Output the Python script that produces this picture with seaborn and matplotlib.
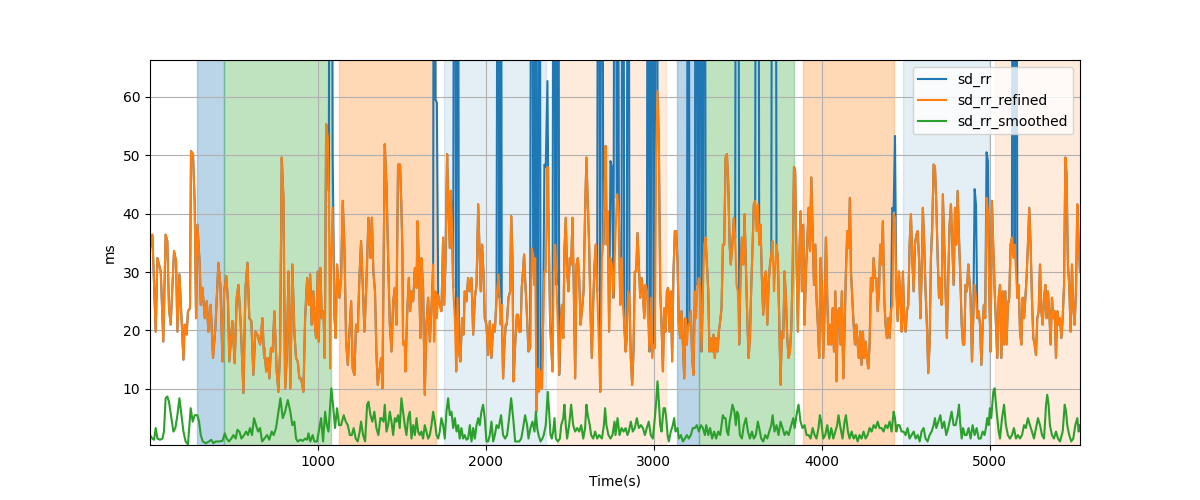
import matplotlib
matplotlib.use("Agg")
import matplotlib.pyplot as plt
import seaborn as sns

# ---------------- data ----------------
time_refined = [
    2, 16, 36, 46, 66, 81, 95, 105, 115, 125, 145, 157, 165, 177, 201, 208, 220, 228, 240, 246,
    258, 268, 276, 284, 298, 304, 314, 328, 340, 349, 363, 377, 391, 409, 421, 433, 443, 456, 466, 474,
    492, 506, 518, 528, 542, 558, 570, 582, 593, 605, 617, 629, 641, 657, 671, 681,
    683, 693, 703, 712, 722, 732, 742, 756, 766, 776, 786, 796, 806, 816, 826, 837, 849, 861, 871, 881,
    891, 901, 915, 925, 937, 947, 955, 964, 974, 980, 990, 1000, 1006, 1016, 1024, 1034, 1042, 1050, 1060, 1066,
    1074, 1080, 1089, 1099, 1107, 1115, 1123, 1129, 1139, 1149, 1159, 1169, 1179, 1189, 1199, 1208, 1218, 1228, 1238, 1248,
    1258, 1268, 1278, 1288, 1302, 1314, 1322, 1331, 1341, 1349, 1357, 1367, 1377,
    1379, 1385, 1389, 1399, 1409, 1419, 1429, 1439, 1449, 1459, 1468, 1478, 1490, 1498, 1504, 1508, 1518, 1522, 1532, 1542,
    1550, 1558, 1568, 1578, 1588, 1594, 1601, 1611, 1617, 1627, 1637, 1647, 1657, 1667, 1677, 1687, 1693, 1701, 1709, 1717,
    1726, 1736, 1746, 1752, 1760, 1770, 1776, 1786, 1792, 1800, 1806, 1816, 1824, 1832, 1840, 1849, 1859, 1867, 1875, 1885,
    1895, 1905, 1915, 1925, 1935, 1945, 1955, 1963, 1970, 1978, 1986, 1994, 2004, 2014, 2024, 2034, 2044, 2054, 2064,
    2076, 2082, 2088, 2095, 2103, 2111, 2119, 2125, 2135, 2145, 2151, 2159, 2165, 2175, 2185, 2191, 2199, 2207, 2214, 2220,
    2228, 2234, 2244, 2254, 2264, 2274, 2282, 2288, 2294, 2302, 2310, 2318, 2326, 2334, 2341, 2349, 2357, 2367, 2373, 2383,
    2389, 2397, 2405, 2413, 2421, 2429, 2437, 2445, 2453, 2461, 2468, 2476, 2484, 2492, 2500, 2508, 2516, 2524, 2532, 2540,
    2548, 2556, 2564, 2572, 2582, 2591, 2599, 2607, 2615, 2623, 2631, 2639, 2647, 2655, 2663, 2671, 2681, 2691, 2699, 2707,
    2713, 2720, 2726, 2734, 2742, 2750, 2760, 2770, 2780,
    2782, 2792, 2800, 2808, 2816, 2824, 2832, 2839, 2847, 2855, 2863, 2871, 2879, 2887, 2895, 2903, 2911, 2919, 2927, 2935,
    2943, 2951, 2959, 2966, 2974, 2982, 2990, 2998, 3006, 3014, 3022, 3030, 3038, 3046, 3054, 3062, 3070, 3078, 3085, 3093,
    3101, 3109, 3117, 3125, 3133, 3141, 3149, 3157, 3165, 3173, 3181, 3189, 3197, 3205, 3212, 3220, 3228, 3236, 3244, 3252,
    3260, 3268, 3276, 3284, 3292, 3300, 3308, 3316, 3324, 3331, 3339, 3347, 3355, 3363, 3371, 3379, 3387, 3395, 3403, 3411,
    3419, 3427, 3435, 3443, 3451, 3458, 3466,
    3476, 3484, 3492, 3500, 3508, 3516, 3524, 3532, 3540, 3548, 3556, 3564, 3572, 3580, 3588, 3595, 3603, 3611, 3619, 3627,
    3635, 3643, 3651, 3659, 3667, 3675, 3683, 3691, 3699, 3707, 3715, 3722, 3730, 3738, 3746, 3754, 3762, 3770, 3778, 3786,
    3794, 3802, 3810, 3818, 3826, 3834, 3841, 3849, 3857, 3865, 3873, 3881, 3889, 3897, 3905, 3913, 3921, 3929, 3937, 3945,
    3953, 3961, 3968, 3976, 3984, 3992, 4000, 4008, 4016, 4024, 4032, 4040, 4048, 4056, 4064, 4072, 4080, 4087, 4095, 4103,
    4111, 4119, 4127, 4135, 4143, 4151, 4159, 4167,
    4173, 4181, 4189, 4197, 4205, 4213, 4220, 4228, 4236, 4244, 4252, 4260, 4268, 4276, 4284, 4292, 4300, 4308, 4316, 4324,
    4332, 4340, 4347, 4355, 4363, 4371, 4379, 4387, 4395, 4403, 4411, 4419, 4427, 4435, 4443, 4451, 4459, 4467, 4474, 4482,
    4490, 4498, 4506, 4514, 4522, 4530, 4538, 4546, 4554, 4562, 4570, 4578, 4586, 4593, 4601, 4609, 4617, 4625, 4633, 4641,
    4649, 4657, 4665, 4673, 4681, 4689, 4697, 4705, 4713, 4720, 4728, 4736, 4744, 4752, 4760, 4768, 4776, 4784, 4792, 4800,
    4808, 4816, 4824, 4832, 4840, 4847, 4855, 4863, 4871,
    4877, 4885, 4893, 4901, 4909, 4917, 4925, 4933, 4941, 4949, 4957, 4964, 4972, 4980, 4988, 4996, 5004, 5012, 5020, 5028,
    5036, 5044, 5052, 5060, 5068, 5076, 5084, 5092, 5099, 5107, 5115, 5123, 5131, 5139, 5147, 5155, 5163, 5171, 5179, 5187,
    5195, 5203, 5211, 5218, 5226, 5234, 5242, 5250, 5258, 5266, 5274, 5282, 5290, 5298, 5306, 5314, 5322, 5330, 5337, 5345,
    5353, 5361, 5369, 5377, 5385, 5393, 5401, 5409, 5417, 5425, 5433, 5441, 5449, 5456, 5464, 5472, 5480, 5488, 5496, 5504,
    5512, 5520, 5528, 5536,
]

sd_rr_refined = [
    34.1, 36.4, 19.8, 32.4, 30.1, 18.1, 36.4, 35.3, 23.8, 21.0, 33.6, 31.9, 19.8, 29.6, 15.0, 21.0, 19.3, 23.3, 23.8, 50.7,
    50.2, 41.6, 22.1, 38.1, 31.3, 24.4, 27.3, 22.1, 25.0, 19.8, 24.4, 15.3, 20.4, 31.6, 27.8, 14.7, 26.7, 29.3, 25.0, 14.7,
    21.6, 14.4, 25.6, 27.8, 21.0, 9.3, 27.3, 31.6, 22.1, 21.6, 12.4, 19.8, 19.3, 17.6, 22.1, 15.3,
    17.0, 13.0, 15.3, 11.8, 17.0, 16.4, 23.3, 13.0, 9.5, 16.4, 49.6, 42.7, 10.1, 15.3, 30.1, 10.1, 31.3, 19.8, 15.3, 14.7,
    11.8, 11.8, 9.5, 22.1, 29.0, 24.4, 29.6, 21.0, 26.7, 22.1, 18.7, 30.1, 18.1, 30.7, 22.1, 23.3, 15.3, 55.3, 53.0, 43.9,
    13.5, 33.0, 41.0, 22.7, 18.7, 31.3, 27.8, 25.6, 29.0, 42.2, 34.1, 18.1, 14.1, 19.8, 25.0, 13.5, 12.4, 21.0, 19.8, 29.0,
    35.3, 27.8, 19.8, 26.7, 39.3, 32.4, 39.3, 30.1, 26.7, 16.4, 10.7, 13.0, 15.3,
    15.3, 10.1, 21.6, 51.9, 45.0, 32.4, 21.0, 16.4, 25.0, 27.3, 21.0, 48.4, 48.4, 41.0, 33.6, 17.6, 18.1, 13.0, 22.7, 29.0,
    23.3, 26.7, 25.0, 30.7, 27.3, 38.7, 32.4, 18.7, 32.4, 27.3, 9.0, 21.0, 25.6, 18.1, 23.8, 31.3, 18.1, 26.7, 22.1, 26.1,
    24.4, 23.3, 35.9, 24.4, 31.3, 50.2, 42.7, 34.1, 43.9, 37.0, 27.3, 22.1, 13.0, 25.6, 16.4, 14.7, 22.1, 19.3, 26.7, 25.0,
    29.0, 26.7, 29.0, 19.3, 25.6, 27.8, 41.6, 33.6, 26.7, 34.7, 30.1, 22.1, 21.0, 15.8, 21.6, 15.3, 21.0, 19.8, 25.6,
    29.6, 25.6, 21.0, 24.4, 11.8, 17.6, 21.0, 21.0, 25.6, 26.7, 39.6, 32.4, 11.3, 17.6, 22.7, 22.7, 19.8, 19.8, 27.3, 29.6,
    33.0, 29.0, 23.3, 16.4, 17.0, 34.1, 33.0, 27.8, 32.4, 6.1, 13.5, 9.5, 13.0, 10.1, 21.0, 30.1, 30.1, 48.0, 40.4, 21.0,
    17.6, 13.0, 30.1, 34.7, 27.8, 19.8, 12.4, 21.0, 24.4, 18.7, 33.6, 39.3, 30.1, 26.7, 32.4, 31.3, 39.3, 26.7, 11.8, 31.3,
    32.4, 29.0, 21.0, 23.3, 26.7, 40.4, 49.6, 41.6, 34.7, 23.3, 15.3, 24.4, 31.3, 34.7, 26.7, 19.8, 9.5, 32.4, 34.7, 43.9,
    51.6, 34.7, 40.4, 19.8, 32.4, 31.3, 25.6, 34.7, 42.7,
    43.3, 39.9, 24.4, 32.4, 24.4, 21.0, 16.4, 18.7, 26.7, 25.6, 15.3, 10.7, 16.4, 30.1, 30.1, 36.7, 31.3, 25.6, 29.0, 26.7,
    22.1, 27.8, 26.7, 21.6, 16.4, 25.6, 15.3, 17.6, 17.0, 49.6, 61.0, 51.9, 26.7, 21.0, 13.0, 23.8, 19.8, 26.7, 27.3, 19.8,
    26.7, 14.7, 30.1, 37.0, 37.0, 31.9, 21.0, 18.7, 23.3, 17.6, 11.8, 22.1, 17.6, 21.0, 21.0, 23.3, 15.3, 12.4, 26.7, 22.1,
    27.8, 29.0, 26.7, 16.4, 26.7, 34.7, 35.9, 31.3, 26.7, 16.4, 18.7, 16.4, 19.3, 15.3, 18.7, 16.4, 19.8, 21.6, 23.8, 34.7,
    34.7, 49.6, 50.2, 45.0, 34.7, 31.3, 34.1,
    39.3, 35.9, 27.8, 26.7, 17.6, 30.1, 35.9, 31.3, 39.9, 30.7, 22.1, 15.3, 18.7, 27.8, 34.7, 41.6, 42.2, 37.0, 41.6, 34.7,
    38.1, 29.0, 22.7, 29.0, 30.1, 21.0, 27.8, 31.3, 33.0, 35.3, 26.7, 30.1, 34.7, 32.4, 22.1, 10.7, 19.8, 18.7, 30.1, 25.6,
    18.7, 15.3, 16.4, 20.4, 30.1, 48.0, 47.4, 32.4, 19.8, 32.4, 40.4, 26.7, 38.1, 21.0, 30.1, 34.7, 41.0, 33.6, 46.2, 37.0,
    27.8, 34.7, 25.6, 21.0, 15.3, 32.4, 27.8, 15.3, 23.3, 35.9, 25.6, 17.6, 21.0, 17.6, 23.8, 16.4, 26.7, 11.3, 23.3, 23.8,
    17.6, 26.7, 11.8, 19.8, 30.1, 37.0, 34.1, 42.7,
    30.1, 25.6, 21.0, 17.6, 21.0, 17.6, 15.3, 19.8, 14.1, 19.8, 15.3, 18.1, 15.3, 13.5, 17.6, 29.0, 26.7, 32.4, 29.0, 29.0,
    23.3, 26.7, 34.7, 31.3, 38.7, 25.6, 21.0, 18.7, 22.1, 18.7, 23.3, 24.4, 39.9, 39.3, 26.7, 21.6, 30.1, 25.6, 19.8, 30.1,
    22.1, 19.8, 23.3, 24.4, 34.7, 39.9, 32.4, 26.7, 34.7, 36.4, 37.0, 32.4, 22.1, 29.0, 41.0, 34.7, 26.7, 21.0, 12.7, 17.6,
    32.4, 38.1, 48.4, 48.0, 41.6, 32.4, 25.6, 29.0, 24.4, 43.3, 34.7, 26.7, 18.7, 29.0, 38.1, 41.6, 34.7, 27.8, 41.0, 34.7,
    43.9, 35.9, 29.0, 21.0, 17.6, 17.6, 27.8, 26.7, 31.3,
    29.0, 25.6, 14.7, 22.1, 27.8, 25.6, 22.1, 23.3, 21.0, 14.1, 21.0, 24.4, 22.1, 42.7, 40.4, 26.7, 16.4, 42.2, 34.7, 26.7,
    21.0, 15.3, 25.6, 27.8, 15.3, 26.7, 17.6, 26.7, 17.6, 24.4, 25.6, 34.7, 35.9, 32.4, 34.7, 30.1, 25.6, 27.8, 19.8, 17.6,
    25.6, 22.1, 25.6, 29.0, 34.7, 41.0, 34.7, 25.6, 18.7, 17.6, 15.8, 22.1, 23.3, 31.3, 23.3, 21.0, 25.6, 27.8, 22.1, 26.7,
    23.3, 17.6, 25.6, 22.1, 23.3, 15.3, 23.3, 21.0, 22.1, 18.7, 22.1, 27.8, 49.6, 46.7, 31.3, 27.8, 19.8, 31.3, 23.8, 21.0,
    26.7, 41.6, 34.7, 30.1,
]

# samples where the raw sd_rr differs from the refined series (artefact spikes)
spike_times = [
    1074, 1080, 1089, 1693, 1701, 1709, 1816, 1832, 2076, 2088,
    2274, 2294, 2318, 2349, 2357, 2367, 2405, 2429, 2671, 2691,
    2742, 2750, 2770, 2782, 2816, 2847, 2966, 2990, 3014, 3205,
    3252, 3276, 3300, 3492, 3500, 3611, 3619, 3707, 3715, 3722,
    4419, 4427, 4435, 4909, 4917, 4980, 4988, 5139, 5155,
]
spike_values = [
    180, 180, 50.0, 180, 59.5, 59.0, 180, 180, 180, 180,
    180, 180, 180, 48.4, 48.0, 62.7, 180, 180, 180, 180,
    49.0, 48.0, 180, 180, 180, 180, 180, 180, 180, 180,
    180, 180, 180, 180, 180, 180, 180, 180, 180, 180,
    41.0, 40.5, 53.3, 44.2, 41.6, 50.5, 49.0, 180, 180,
]

time_smoothed = [
    2, 16, 26, 36, 46, 62, 76, 85, 95, 105, 115, 129, 141, 153, 165, 177, 189, 201, 214, 228,
    244, 256, 268, 284, 294, 304, 316, 334, 353, 367, 379, 393, 413, 433, 447, 458, 472, 486, 498, 512,
    522, 534, 546, 562, 574, 585, 597, 609, 621, 633, 645, 657, 669,
    683, 699, 712, 726, 738, 752, 766, 778, 792, 806, 822, 837, 849, 861, 871, 881, 897, 911, 925, 937,
    945, 956, 970, 980, 996, 1010, 1020, 1032, 1044, 1054, 1064, 1072, 1081, 1091, 1103, 1115, 1127, 1139, 1155, 1167,
    1179, 1191, 1203, 1214, 1226, 1238, 1250, 1258, 1270, 1282, 1294, 1302, 1314, 1325, 1337, 1349, 1361, 1373,
    1379, 1391, 1399, 1409, 1419, 1429, 1439, 1449, 1459, 1468, 1478, 1488, 1498, 1508, 1518, 1528, 1538, 1548, 1558, 1568,
    1578, 1588, 1597, 1607, 1617, 1627, 1637, 1647, 1657, 1667, 1677, 1687, 1697, 1707, 1717, 1726, 1736, 1746, 1756, 1766,
    1776, 1786, 1796, 1806, 1816, 1826, 1836, 1845, 1855, 1865, 1875, 1885, 1895, 1905, 1915, 1925, 1935, 1945, 1955, 1964,
    1974, 1984, 1994, 2004, 2014, 2024, 2034, 2044, 2054, 2064,
    2076, 2091, 2103, 2115, 2127, 2139, 2151, 2163, 2175, 2187, 2199, 2211, 2222, 2234, 2246, 2254, 2266, 2278, 2290, 2298,
    2306, 2314, 2326, 2337, 2345, 2357, 2369, 2377, 2385, 2393, 2401, 2409, 2417, 2429, 2441, 2449, 2461, 2468, 2476, 2484,
    2496, 2508, 2520, 2532, 2544, 2556, 2568, 2580, 2591, 2599, 2607, 2619, 2627, 2639, 2651, 2663, 2675, 2691, 2703, 2710,
    2718, 2730, 2742, 2754, 2766,
    2772, 2784, 2796, 2808, 2820, 2832, 2843, 2851, 2863, 2875, 2887, 2899, 2911, 2923, 2935, 2947, 2958, 2970, 2982, 2994,
    3006, 3014, 3022, 3030, 3038, 3046, 3058, 3066, 3074, 3082, 3089, 3101, 3113, 3121, 3129, 3141, 3149, 3161, 3173, 3185,
    3197, 3208, 3220, 3232, 3244, 3256, 3268, 3280, 3292, 3304, 3312, 3324, 3335, 3347, 3359, 3371, 3383, 3395, 3403, 3411,
    3419, 3427, 3435, 3443, 3451, 3458,
    3468, 3480, 3488, 3496, 3504, 3512, 3524, 3536, 3548, 3560, 3572, 3584, 3595, 3607, 3619, 3627, 3639, 3651, 3663, 3675,
    3687, 3699, 3707, 3718, 3730, 3742, 3754, 3766, 3778, 3790, 3802, 3818, 3830, 3838, 3849, 3861, 3873, 3885, 3897, 3909,
    3921, 3933, 3945, 3957, 3968, 3980, 3988, 3996, 4008, 4020, 4032, 4044, 4056, 4068, 4080, 4091, 4099, 4111, 4123, 4135,
    4143, 4155,
    4165, 4177, 4189, 4201, 4213, 4224, 4236, 4248, 4260, 4272, 4284, 4296, 4308, 4320, 4332, 4343, 4355, 4367, 4379, 4391,
    4403, 4415, 4427, 4435, 4443, 4451, 4462, 4474, 4486, 4498, 4510, 4522, 4534, 4546, 4558, 4570, 4582, 4593, 4605, 4617,
    4629, 4641, 4653, 4665, 4673, 4681, 4693, 4705, 4716, 4728, 4740, 4752, 4760, 4772, 4784, 4796, 4808, 4816, 4824, 4832,
    4840, 4851,
    4861, 4873, 4885, 4897, 4909, 4921, 4933, 4945, 4957, 4968, 4976, 4984, 4992, 5000, 5008, 5020, 5028, 5036, 5044, 5052,
    5060, 5072, 5084, 5095, 5107, 5119, 5131, 5143, 5155, 5167, 5179, 5191, 5203, 5214, 5226, 5238, 5250, 5262, 5274, 5286,
    5298, 5310, 5322, 5334, 5341, 5349, 5357, 5369, 5381, 5393, 5405, 5417, 5433, 5445, 5453, 5460, 5472, 5484, 5496, 5508,
    5520, 5528, 5536,
]

sd_rr_smoothed = [
    2.1, 1.5, 1.3, 3.3, 1.5, 1.3, 1.5, 2.7, 8.4, 8.7, 7.8, 5.0, 2.7, 3.3, 5.5, 8.4, 5.5, 2.7, 1.0, 0.5,
    6.7, 4.4, 5.5, 5.5, 4.4, 2.1, 1.0, 0.7, 1.0, 1.3, 0.7, 1.0, 1.0, 1.1, 2.4, 1.5, 1.0, 1.5, 2.1, 1.5,
    3.0, 2.7, 1.5, 2.1, 2.7, 2.1, 3.3, 2.1, 5.0, 3.8, 2.7, 3.3, 1.0,
    1.5, 2.1, 1.3, 2.7, 2.1, 3.3, 6.1, 8.4, 5.0, 6.1, 8.1, 6.1, 3.8, 4.4, 1.5, 1.0, 1.3, 1.1, 1.5, 1.3,
    2.4, 1.0, 2.1, 1.0, 1.0, 3.3, 5.0, 1.0, 6.1, 3.8, 2.7, 6.1, 10.1, 7.3, 3.3, 6.7, 3.8, 3.8, 5.5, 4.4,
    3.8, 2.1, 2.1, 3.3, 1.5, 1.0, 2.7, 4.4, 2.1, 1.0, 7.3, 7.8, 5.5, 4.4, 6.1, 3.3, 2.1, 5.0,
    5.0, 4.4, 7.3, 2.7, 3.8, 6.1, 4.4, 2.1, 5.0, 4.4, 5.5, 3.3, 8.4, 6.1, 3.8, 2.1, 5.0, 6.1, 1.5, 3.8,
    2.1, 5.0, 2.7, 2.1, 2.7, 1.5, 3.8, 2.7, 1.5, 2.1, 3.8, 6.1, 4.4, 2.1, 1.5, 2.7, 5.0, 3.8, 1.5, 6.1,
    8.4, 5.5, 6.1, 3.3, 5.0, 2.7, 3.8, 1.5, 3.3, 1.5, 2.1, 1.3, 1.5, 3.8, 1.0, 3.3, 1.5, 3.8, 5.0, 3.8,
    6.1, 7.3, 5.0, 1.0, 1.0, 2.1, 4.4, 1.0, 2.1, 3.8,
    3.3, 5.5, 2.1, 1.5, 2.1, 5.0, 8.4, 5.0, 1.0, 1.0, 1.0, 1.5, 3.3, 5.5, 3.8, 1.5, 3.3, 4.4, 2.7, 6.1,
    3.3, 2.1, 1.0, 1.5, 2.1, 3.8, 9.5, 6.1, 2.1, 1.5, 2.7, 5.0, 1.5, 1.0, 1.5, 3.8, 5.0, 7.3, 3.8, 1.5,
    3.8, 7.3, 3.8, 2.7, 3.3, 2.7, 3.8, 1.5, 3.3, 7.3, 5.5, 3.8, 2.1, 1.5, 2.7, 1.5, 2.1, 1.5, 3.8, 6.7,
    3.8, 2.1, 1.5, 2.1, 4.4,
    2.1, 5.0, 2.1, 3.3, 2.7, 3.3, 2.1, 2.7, 4.4, 2.7, 3.3, 5.0, 3.3, 3.8, 3.3, 2.1, 3.3, 4.4, 2.1, 1.5,
    5.0, 7.8, 11.3, 7.8, 3.8, 2.7, 6.7, 6.7, 5.0, 2.1, 1.0, 2.7, 3.8, 5.0, 2.7, 3.3, 1.5, 2.1, 1.0, 1.5,
    2.1, 1.5, 2.1, 3.3, 3.3, 3.8, 2.7, 3.8, 3.3, 2.1, 3.8, 2.1, 3.3, 1.5, 2.7, 1.5, 2.7, 2.1, 3.8, 5.5,
    5.0, 5.0, 2.7, 2.1, 4.4, 5.5,
    7.3, 6.1, 3.8, 6.1, 5.5, 2.1, 1.5, 3.8, 5.0, 2.7, 1.5, 2.7, 1.5, 2.1, 4.4, 3.3, 1.5, 1.0, 2.1, 1.5,
    2.7, 3.8, 5.5, 2.7, 3.8, 2.1, 4.4, 3.3, 2.1, 2.7, 2.1, 3.8, 5.0, 3.3, 5.5, 7.3, 4.4, 3.3, 3.8, 2.1,
    2.1, 1.5, 3.3, 2.1, 1.5, 3.3, 5.5, 4.4, 1.5, 2.1, 3.8, 1.5, 3.3, 1.5, 2.7, 3.8, 5.5, 3.3, 1.5, 4.4,
    5.5, 2.7,
    1.5, 2.7, 1.5, 2.1, 1.0, 2.1, 1.5, 2.7, 1.5, 2.1, 3.3, 2.7, 3.8, 3.3, 4.4, 3.3, 3.3, 2.7, 3.8, 3.3,
    4.4, 2.7, 6.1, 5.0, 2.7, 3.8, 3.8, 2.7, 2.7, 2.1, 3.3, 1.5, 2.1, 2.7, 1.5, 2.1, 1.0, 2.7, 3.3, 1.5,
    1.0, 2.1, 2.7, 3.8, 5.0, 3.3, 4.4, 5.5, 3.3, 4.4, 2.1, 3.3, 4.4, 6.1, 3.8, 3.8, 5.5, 7.3, 3.8, 1.5,
    3.3, 2.1,
    2.1, 3.3, 1.5, 3.8, 2.1, 3.3, 1.5, 1.5, 2.7, 2.1, 3.3, 5.0, 3.8, 6.7, 5.0, 9.5, 10.1, 7.3, 5.0, 2.7,
    1.5, 5.0, 7.3, 3.8, 2.1, 1.5, 2.1, 3.3, 1.5, 2.1, 1.5, 2.1, 3.8, 3.3, 5.0, 3.8, 2.7, 1.5, 3.3, 5.0,
    3.8, 2.1, 1.5, 7.3, 9.0, 7.3, 3.8, 2.1, 1.5, 2.7, 1.5, 1.0, 2.7, 7.3, 6.1, 3.8, 2.1, 1.0, 1.5, 3.8,
    5.0, 2.7, 3.8,
]

# shaded segments (start, end in seconds) and their stage category
span_start = [281, 444, 1129, 1752, 2421, 3137, 3268, 3885, 4482, 5032]
span_end = [444, 1080, 1702, 2357, 3074, 3268, 3837, 4431, 4996, 5540]
span_stage = ["A", "B", "C", "D", "E", "A", "B", "C", "D", "E"]

# ---------------- style ----------------
stage_style = {
    "A": ("tab:blue", 0.3),
    "B": ("tab:green", 0.3),
    "C": ("tab:orange", 0.3),
    "D": ("tab:blue", 0.12),
    "E": ("tab:orange", 0.15),
}

spike_map = dict(zip(spike_times, spike_values))
sd_rr = [spike_map.get(t, v) for t, v in zip(time_refined, sd_rr_refined)]

fig, ax = plt.subplots(figsize=(12, 5), dpi=100)

for s, e, st in zip(span_start, span_end, span_stage):
    c, a = stage_style[st]
    ax.axvspan(s, e, color=c, alpha=a)

sns.lineplot(x=time_refined, y=sd_rr, ax=ax, label="sd_rr", color="tab:blue",
             estimator=None, sort=False, linewidth=1.5)
sns.lineplot(x=time_refined, y=sd_rr_refined, ax=ax, label="sd_rr_refined", color="tab:orange",
             estimator=None, sort=False, linewidth=1.5)
sns.lineplot(x=time_smoothed, y=sd_rr_smoothed, ax=ax, label="sd_rr_smoothed", color="tab:green",
             estimator=None, sort=False, linewidth=1.5)

ax.grid(True)
ax.set_xlim(min(time_refined), max(time_refined))
ax.set_ylim(0.4, 66.3)
ax.set_xlabel("Time(s)")
ax.set_ylabel("ms")
ax.legend(loc="upper right")

fig.savefig("out.png", dpi=100)
